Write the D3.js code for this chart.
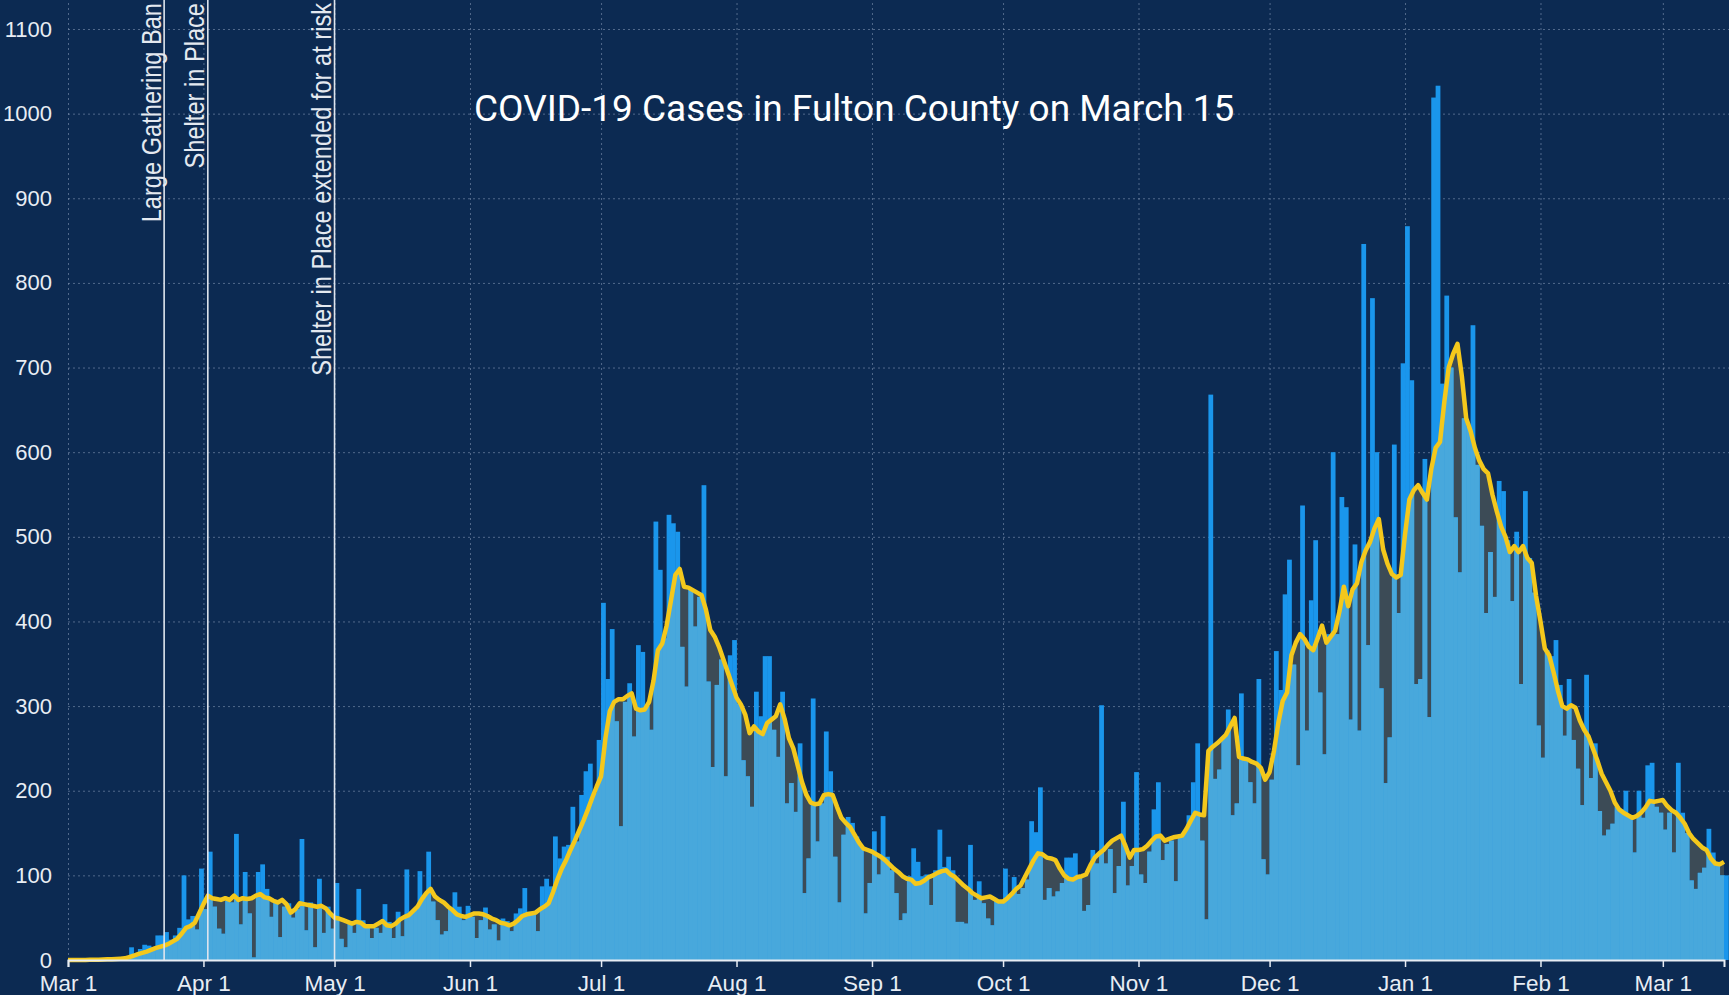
<!DOCTYPE html>
<html>
<head>
<meta charset="utf-8">
<script src="https://cdn.jsdelivr.net/npm/d3@7"></script>
<style>
  html, body { margin: 0; padding: 0; background: #0c2a52; }
  svg { display: block; }
  .axis text { font-family: "Liberation Sans", Arial, sans-serif; fill: #e8edf4; }
  .grid line { stroke: #8094b3; stroke-opacity: 0.6; stroke-dasharray: 2,3; }
  .grid .domain { display: none; }
</style>
</head>
<body>
<div id="chart"></div>
<script>
// ---- data ----
var startDate = "2020-03-01";
var endDate = "2021-03-15";
var titleText = "COVID-19 Cases in Fulton County on March 15";

// daily new cases, one line per month
var dailyCases = [
  0,0,0,0,0,1,0,1,1,2,1,2,3,4,15,6,13,18,17,15,29,29,33,24,29,38,100,48,52,36,108,
  60,128,63,37,31,70,68,149,42,104,55,3,104,113,84,51,68,27,63,67,50,60,143,35,68,15,96,32,63,37,
  91,25,15,46,32,84,47,38,26,38,32,66,45,26,57,28,107,55,59,105,75,128,69,47,30,34,60,80,63,47,64,
  51,26,47,62,36,42,23,49,46,34,55,61,85,57,55,34,87,96,87,146,120,134,136,181,140,195,223,232,197,260,
  422,332,391,282,158,305,327,264,372,364,300,272,518,461,380,526,516,506,370,323,439,394,429,561,329,228,325,355,217,360,378,
  303,236,217,181,317,288,359,359,272,240,317,185,209,175,256,79,120,309,140,185,270,223,122,68,148,169,162,146,134,55,91,
  152,101,170,122,106,79,47,55,99,132,116,99,101,65,106,154,110,122,106,45,45,43,136,71,93,67,49,41,71,67,
  108,75,98,78,85,95,164,151,204,71,85,75,81,91,121,121,126,98,58,65,130,114,301,114,131,79,111,187,88,111,222,
  101,91,128,178,210,118,137,141,93,147,151,171,210,256,141,48,668,214,225,263,296,171,185,315,237,210,185,332,119,101,
  213,365,319,432,473,349,230,537,271,425,496,316,243,385,600,385,547,535,284,491,271,846,372,782,600,321,209,263,609,410,705,
  867,685,326,332,592,287,1019,1033,681,785,700,523,458,640,630,750,585,513,410,482,429,566,554,496,424,506,326,554,475,434,277,
  239,366,359,378,325,265,332,260,226,183,337,215,256,176,147,154,161,181,178,200,168,127,200,168,230,233,181,174,
  154,174,127,233,174,150,94,84,103,109,155,127,116,100,100
];

// 7-day average as drawn (yellow line), one line per month
var weeklyAverage = [
  0,0,0,0,0,0.2,0.3,0.4,0.6,0.8,1,1.3,1.6,2,3.5,5,7,8.5,10,12,14,15.5,17,19,22,25,31,38,40,44,55,
  66,76,73,72,71,73,71,76,71,73,72,73,76,78,74,73,70,68,71,66,56,60,67,66,65,64,63,64,61,55,
  50,49,47,45,43,45,44,40,40,40,43,46,41,40,43,48,51,53,58,63,72,79,84,75,71,68,63,59,54,52,51,
  53,55,55,54,52,49,47,44,43,41,43,47,52,54,55,56,60,63,67,80,95,108,118,130,141,153,165,178,192,205,
  217,262,294,305,308,308,312,315,297,295,296,305,330,366,374,395,425,455,462,441,440,437,434,431,414,390,382,370,355,340,325,
  310,302,290,268,276,270,267,280,284,288,302,285,262,250,230,210,195,186,184,185,195,196,195,181,168,162,157,148,139,132,130,
  128,125,122,118,113,108,104,99,96,95,90,91,94,98,100,103,105,106,101,98,93,88,84,79,76,73,74,75,72,69,
  69,73,78,84,88,98,108,118,126,125,121,120,118,108,100,96,95,98,99,101,112,121,126,130,136,141,144,147,135,121,130,
  130,131,135,141,146,147,141,143,145,146,147,155,165,174,172,171,247,252,256,261,266,276,286,240,238,237,234,232,227,213,
  222,247,280,306,316,360,375,385,379,370,366,380,395,375,382,389,412,441,418,438,445,470,484,494,510,521,485,468,456,452,455,
  503,544,555,561,552,544,580,605,612,660,700,716,728,690,640,625,605,590,580,575,550,530,512,500,482,489,482,489,475,469,430,
  400,368,360,340,318,300,297,301,298,283,272,264,250,236,220,210,200,186,178,174,171,168,170,174,180,188,187,188,
  189,182,177,174,168,161,150,143,138,133,130,120,114,113,116
];

var eventDates = ["2020-03-23", "2020-04-02", "2020-05-01"];
var eventLabels = ["Large Gathering Ban", "Shelter in Place", "Shelter in Place extended for at risk"];
var yTicks = [0, 100, 200, 300, 400, 500, 600, 700, 800, 900, 1000, 1100];

// ---- layout ----
var W = 1729, H = 995;
var plotLeft = 68, plotRight = 1724, baseY = 960, topY = 29;

var parseDay = d3.utcParse("%Y-%m-%d");
var t0 = parseDay(startDate);

var days = [];
for (var i = 0; i < dailyCases.length; i++) {
  days.push({ date: d3.utcDay.offset(t0, i), cases: dailyCases[i], avg: weeklyAverage[i] });
}

var x = d3.scaleUtc()
  .domain([t0, parseDay(endDate)])
  .range([plotLeft, plotRight]);

var y = d3.scaleLinear()
  .domain([0, 1100])
  .range([baseY, topY]);

var svg = d3.select("#chart").append("svg")
  .attr("width", W)
  .attr("height", H);

svg.append("rect")
  .attr("width", W)
  .attr("height", H)
  .attr("fill", "#0c2a52");

// dotted grid
svg.append("g")
  .attr("class", "grid")
  .attr("transform", "translate(" + plotLeft + ",0)")
  .call(d3.axisLeft(y).tickValues(yTicks.slice(1)).tickSize(-(W - plotLeft)).tickFormat(""));

svg.append("g")
  .attr("class", "grid")
  .attr("transform", "translate(0," + baseY + ")")
  .call(d3.axisBottom(x).ticks(d3.utcMonth.every(1)).tickSize(-baseY).tickFormat(""));

// 7-day average area
var area = d3.area()
  .x(function(d) { return x(d.date); })
  .y0(y(0))
  .y1(function(d) { return y(d.avg); });

var line = d3.line()
  .x(function(d) { return x(d.date); })
  .y(function(d) { return y(d.avg); });

svg.append("defs").append("clipPath")
  .attr("id", "avgClip")
  .append("path")
  .attr("d", area(days));

// gap between bar and average
svg.append("path")
  .datum(days)
  .attr("fill", "#3c4b56")
  .attr("d", area);

function drawBars(g, color) {
  g.selectAll("rect")
    .data(days)
    .enter().append("rect")
    .attr("x", function(d) { return x(d.date); })
    .attr("width", function(d) { return x(d3.utcDay.offset(d.date, 1)) - x(d.date) + 0.4; })
    .attr("y", function(d) { return y(d.cases); })
    .attr("height", function(d) { return y(0) - y(d.cases); })
    .attr("fill", color);
}

// bars above the average
svg.append("g").call(drawBars, "#1a96ec");
// bars below the average
svg.append("g").attr("clip-path", "url(#avgClip)").call(drawBars, "#48a8dc");

svg.append("path")
  .datum(days)
  .attr("fill", "none")
  .attr("stroke", "#f4c81c")
  .attr("stroke-width", 4.5)
  .attr("stroke-linejoin", "round")
  .attr("d", line);

// event markers
var ev = svg.append("g");
eventDates.forEach(function(s, k) {
  var ex = x(parseDay(s));
  ev.append("line")
    .attr("x1", ex).attr("x2", ex)
    .attr("y1", 0).attr("y2", baseY)
    .attr("stroke", "#dfe5ee")
    .attr("stroke-width", 1.6);
  ev.append("text")
    .attr("transform", "translate(" + (ex - 3.5) + ",3) rotate(-90) scale(0.875,1)")
    .attr("text-anchor", "end")
    .attr("font-family", "Liberation Sans, Arial, sans-serif")
    .attr("font-size", "27px")
    .attr("fill", "#e4e9f0")
    .text(eventLabels[k]);
});

// axes
var xAxis = svg.append("g")
  .attr("class", "axis")
  .attr("transform", "translate(0," + baseY + ")")
  .call(d3.axisBottom(x)
    .ticks(d3.utcMonth.every(1))
    .tickFormat(d3.utcFormat("%b %-d"))
    .tickSize(7)
    .tickPadding(8));
xAxis.selectAll("text").attr("font-size", "22.5px");
xAxis.select(".domain").attr("stroke", "#e8edf4").attr("stroke-width", 2);
xAxis.selectAll(".tick line").attr("stroke", "#e8edf4").attr("stroke-width", 1.5);

var yAxis = svg.append("g")
  .attr("class", "axis")
  .attr("transform", "translate(" + plotLeft + ",0)")
  .call(d3.axisLeft(y).tickValues(yTicks).tickFormat(d3.format("d")).tickSize(0).tickPadding(16));
yAxis.select(".domain").remove();
yAxis.selectAll("text").attr("font-size", "22px");

svg.append("text")
  .attr("x", 474)
  .attr("y", 121)
  .attr("font-family", "Roboto, sans-serif")
  .attr("font-size", "37px")
  .attr("fill", "#ffffff")
  .text(titleText);
</script>
</body>
</html>
